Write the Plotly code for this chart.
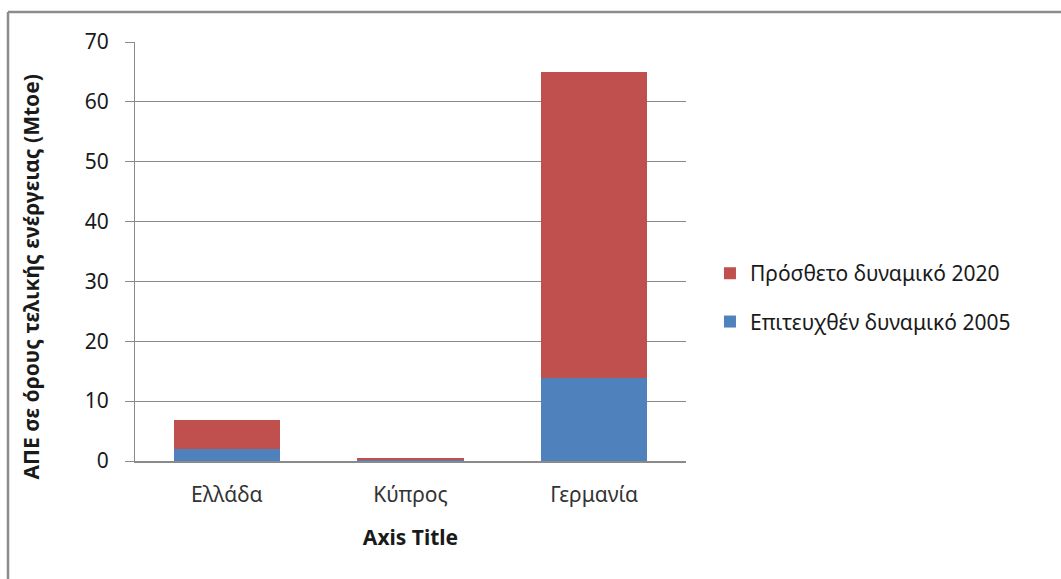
import plotly.graph_objects as go

categories = ["Ελλάδα", "Κύπρος", "Γερμανία"]
achieved_2005 = [1.95, 0.3, 13.8]
additional_2020 = [4.9, 0.2, 51.2]
series_names = ["Επιτευχθέν δυναμικό 2005", "Πρόσθετο δυναμικό 2020"]
y_ticks = [0, 10, 20, 30, 40, 50, 60, 70]
y_title = "ΑΠΕ σε όρους τελικής ενέργειας (Mtoe)"
x_title = "Axis Title"

FONT = "Noto Sans"
GRID = "#8a8a8a"
FS = 21

fig = go.Figure()
fig.add_trace(go.Bar(x=categories, y=achieved_2005, name=series_names[0],
                     marker=dict(color="#4F81BD", line=dict(width=0)),
                     legendgroup="a", legendrank=2))
fig.add_trace(go.Bar(x=categories, y=additional_2020, name=series_names[1],
                     marker=dict(color="#C0504D", line=dict(width=0)),
                     legendgroup="b", legendrank=1))

fig.update_layout(
    width=1061, height=579,
    barmode="stack", bargap=0.42,
    paper_bgcolor="white", plot_bgcolor="white",
    margin=dict(l=135, r=375, t=42, b=118),
    font=dict(family=FONT, size=FS, color="#1a1a1a"),
    legend=dict(x=1.0435, xanchor="left", y=0.39, yanchor="middle",
                tracegroupgap=18,
                font=dict(family=FONT, size=FS, color="#1a1a1a"),
                bgcolor="rgba(0,0,0,0)"),
    xaxis=dict(showline=True, linecolor=GRID, linewidth=1.5, ticks="",
               showgrid=False, tickfont=dict(size=FS, color="#333"),
               ticklabelstandoff=14,
               title=dict(text="<b>" + x_title + "</b>", font=dict(size=FS, color="#1a1a1a"), standoff=23),
               automargin=False),
    yaxis=dict(range=[0, 70], tickvals=y_ticks, showline=True, linecolor=GRID, linewidth=1,
               ticks="outside", ticklen=9, tickcolor=GRID, showgrid=True, gridcolor=GRID,
               gridwidth=1, zeroline=False, tickfont=dict(size=FS, color="#1a1a1a"),
               ticklabelstandoff=12, automargin=False),
    showlegend=True,
)

fig.add_annotation(text="<b>" + y_title + "</b>", xref="paper", yref="paper",
                   x=(31 - 135) / 551, y=(461 - 277) / 420, xanchor="center", yanchor="middle",
                   textangle=-90, showarrow=False, font=dict(size=FS, color="#1a1a1a"))

# outer chart frame (top and left edges visible in the reference)
fx = (8 - 135) / 551
fy = (461 - 11) / 420
fig.add_shape(type="line", xref="paper", yref="paper", x0=fx, x1=2, y0=fy, y1=fy,
              line=dict(color="#8c8c8c", width=2.5))
fig.add_shape(type="line", xref="paper", yref="paper", x0=fx, x1=fx, y0=fy, y1=-1,
              line=dict(color="#8c8c8c", width=2.5))

fig.write_html("out.html")
